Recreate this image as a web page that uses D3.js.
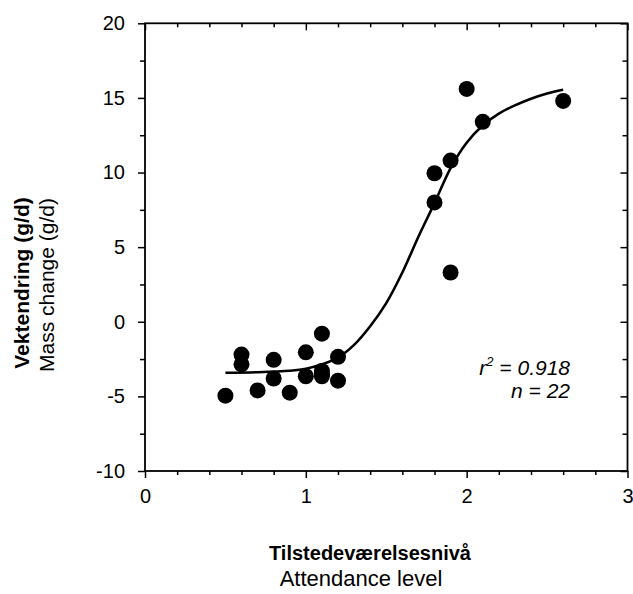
<!DOCTYPE html>
<html>
<head>
<meta charset="utf-8">
<script src="https://cdn.jsdelivr.net/npm/d3@7"></script>
<style>
  html, body { margin: 0; padding: 0; background: #fff; }
  svg { display: block; }
  text { font-family: "Liberation Sans", Arial, sans-serif; fill: #000; }
</style>
</head>
<body>
<div id="chart"></div>
<script>
// Attendance level vs. mass change observations
const attendance = [0.5, 0.6, 0.6, 0.7, 0.8, 0.8, 0.9, 1.0, 1.0, 1.1, 1.1, 1.1, 1.1, 1.2, 1.2,
                    1.8, 1.8, 1.9, 1.9, 2.0, 2.1, 2.6];
const massChange = [-4.95, -2.2, -2.85, -4.6, -2.55, -3.8, -4.75, -2.05, -3.65, -0.8, -3.3, -3.5, -3.65, -2.35, -3.95,
                    8.0, 9.95, 3.3, 10.8, 15.6, 13.4, 14.8];

// Sigmoid fit line, sampled along the attendance range
const fitX = [0.5, 0.7, 0.9, 1.0, 1.1, 1.2, 1.3, 1.4, 1.5, 1.6, 1.7, 1.8, 1.9, 2.0, 2.1, 2.2, 2.3, 2.4, 2.5, 2.6];
const fitY = [-3.42, -3.38, -3.28, -3.15, -2.85, -2.4, -1.55, -0.3, 1.25, 3.3, 5.7, 7.95, 10.3, 12.0, 13.15, 13.95, 14.5, 14.95, 15.3, 15.55];

const xMajorTicks = [0, 1, 2, 3];
const yMajorTicks = [-10, -5, 0, 5, 10, 15, 20];

const statLines = ["0.918", "22"];

const W = 633, H = 594;
const margin = { left: 145, top: 23.3, right: 5.5, bottom: 123 };
const w = W - margin.left - margin.right;
const h = H - margin.top - margin.bottom;

const svg = d3.select("#chart").append("svg").attr("width", W).attr("height", H);
const g = svg.append("g").attr("transform", `translate(${margin.left},${margin.top})`);

const x = d3.scaleLinear().domain([0, 3]).range([0, w]);
const y = d3.scaleLinear().domain([-10, 20]).range([h, 0]);

const xMinor = d3.range(0, 3.0001, 0.2).map(v => +v.toFixed(1)).filter(v => !xMajorTicks.includes(v));
const yMinor = d3.range(-10, 20.0001, 2.5).filter(v => !yMajorTicks.includes(v));

// plain hyphen for negatives
const fmt = d => String(d);

function styleAxis(sel) {
  sel.select(".domain").remove();
  sel.selectAll(".tick line").attr("stroke", "#000").attr("stroke-width", 1.5);
  sel.selectAll("text").attr("font-size", 20).attr("fill", "#000")
     .attr("font-family", '"Liberation Sans", Arial, sans-serif');
}

// bottom axis: labelled majors, minor ticks outward
g.append("g").attr("transform", `translate(0,${h})`)
  .call(d3.axisBottom(x).tickValues(xMajorTicks).tickSize(7).tickPadding(11).tickFormat(fmt))
  .call(styleAxis);
g.append("g").attr("transform", `translate(0,${h})`)
  .call(d3.axisBottom(x).tickValues(xMinor).tickSize(4).tickFormat(""))
  .call(styleAxis);
// top axis: ticks pointing inward
g.append("g")
  .call(d3.axisBottom(x).tickValues(xMajorTicks).tickSize(7).tickFormat(""))
  .call(styleAxis);
g.append("g")
  .call(d3.axisBottom(x).tickValues(xMinor).tickSize(4).tickFormat(""))
  .call(styleAxis);

// left axis
g.append("g")
  .call(d3.axisLeft(y).tickValues(yMajorTicks).tickSize(7).tickPadding(13).tickFormat(fmt))
  .call(styleAxis);
g.append("g")
  .call(d3.axisLeft(y).tickValues(yMinor).tickSize(5).tickFormat(""))
  .call(styleAxis);
// right axis: ticks pointing inward
g.append("g").attr("transform", `translate(${w},0)`)
  .call(d3.axisLeft(y).tickValues(yMajorTicks).tickSize(7).tickFormat(""))
  .call(styleAxis);
g.append("g").attr("transform", `translate(${w},0)`)
  .call(d3.axisLeft(y).tickValues(yMinor).tickSize(5).tickFormat(""))
  .call(styleAxis);

// frame
g.append("rect").attr("x", 0).attr("y", 0).attr("width", w).attr("height", h)
  .attr("fill", "none").attr("stroke", "#000").attr("stroke-width", 1.8);

// fitted curve
const fit = fitX.map((v, i) => [v, fitY[i]]);
g.append("path").datum(fit)
  .attr("fill", "none").attr("stroke", "#000").attr("stroke-width", 2.6)
  .attr("d", d3.line().x(d => x(d[0])).y(d => y(d[1])).curve(d3.curveCatmullRom.alpha(0.5)));

// observations
g.selectAll("circle.obs").data(attendance.map((v, i) => [v, massChange[i]]))
  .join("circle").attr("class", "obs")
  .attr("cx", d => x(d[0])).attr("cy", d => y(d[1])).attr("r", 8).attr("fill", "#000");

// statistics
const stat = g.append("g").attr("font-size", 21).attr("font-style", "italic");
const t1 = stat.append("text").attr("x", 425).attr("y", 352).attr("text-anchor", "end");
t1.append("tspan").text("r");
t1.append("tspan").attr("font-size", 13).attr("dy", -9).text("2");
t1.append("tspan").attr("dy", 9).text(" = " + statLines[0]);
stat.append("text").attr("x", 425).attr("y", 375).attr("text-anchor", "end").text("n = " + statLines[1]);

// axis titles
svg.append("text").attr("x", 370).attr("y", 560).attr("text-anchor", "middle")
  .attr("font-size", 20).attr("font-weight", "bold").text("Tilstedeværelsesnivå");
svg.append("text").attr("x", 361).attr("y", 586).attr("text-anchor", "middle")
  .attr("font-size", 22).text("Attendance level");

svg.append("text").attr("transform", "translate(29,283) rotate(-90)").attr("text-anchor", "middle")
  .attr("font-size", 21).attr("font-weight", "bold").text("Vektendring (g/d)");
svg.append("text").attr("transform", "translate(54,285) rotate(-90)").attr("text-anchor", "middle")
  .attr("font-size", 21).text("Mass change (g/d)");
</script>
</body>
</html>
